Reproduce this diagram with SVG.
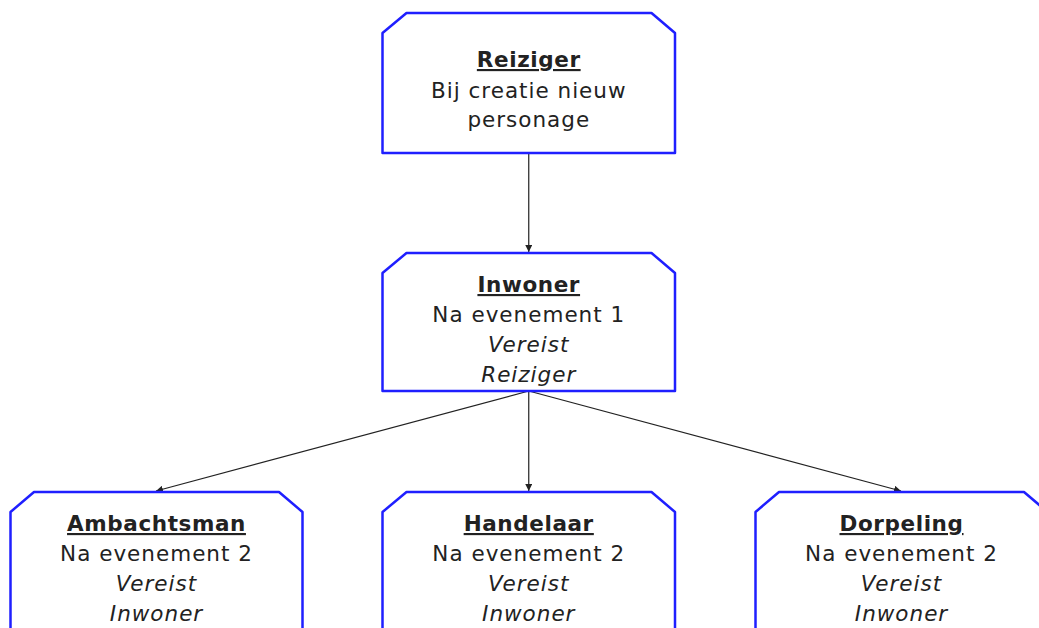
<svg xmlns="http://www.w3.org/2000/svg" width="1039" height="628" viewBox="0 0 1039 628">
<style>
.box{fill:#fff;stroke:#1f1fff;stroke-width:2.5;stroke-linejoin:round}
text{font-family:"DejaVu Sans","Noto Sans",sans-serif;font-size:21.5px;letter-spacing:1px;fill:#222;text-anchor:middle}
.t{font-weight:bold;text-decoration:underline;letter-spacing:0.6px}
.i{font-style:italic}
.c{stroke:#222;stroke-width:1.2;fill:none;marker-end:url(#ah)}
</style>
<defs>
<marker id="ah" viewBox="0 0 10 10" refX="10" refY="5" markerWidth="7" markerHeight="7" markerUnits="userSpaceOnUse" orient="auto">
<path d="M0,0L10,5L0,10z" fill="#222"/>
</marker>
</defs>
<rect width="1039" height="628" fill="#fff"/>
<g id="connectors">
<line class="c" x1="528.75" y1="153" x2="528.75" y2="252"/>
<line class="c" x1="528.75" y1="391" x2="156" y2="491"/>
<line class="c" x1="528.75" y1="391" x2="528.75" y2="491"/>
<line class="c" x1="528.75" y1="391" x2="901" y2="491"/>
</g>
<g id="reiziger">
<path class="box" d="M406.5,13H651.5L675,33V153H382.5V33Z"/>
<text class="t" x="528.75" y="67">Reiziger</text>
<text x="528.75" y="98">Bij creatie nieuw</text>
<text x="528.75" y="127">personage</text>
</g>
<g id="inwoner">
<path class="box" d="M406.5,253H651.5L675,273V391H382.5V273Z"/>
<text class="t" x="528.75" y="292">Inwoner</text>
<text x="528.75" y="322">Na evenement 1</text>
<text class="i" x="528.75" y="352">Vereist</text>
<text class="i" x="528.75" y="382">Reiziger</text>
</g>
<g id="ambachtsman">
<path class="box" d="M34,492H279L302.5,512V640H10.5V512Z"/>
<text class="t" x="156.5" y="531">Ambachtsman</text>
<text x="156.5" y="561">Na evenement 2</text>
<text class="i" x="156.5" y="591">Vereist</text>
<text class="i" x="156.5" y="621">Inwoner</text>
</g>
<g id="handelaar">
<path class="box" d="M406.5,492H651.5L675,512V640H382.5V512Z"/>
<text class="t" x="528.75" y="531">Handelaar</text>
<text x="528.75" y="561">Na evenement 2</text>
<text class="i" x="528.75" y="591">Vereist</text>
<text class="i" x="528.75" y="621">Inwoner</text>
</g>
<g id="dorpeling">
<path class="box" d="M779,492H1024L1047.5,512V640H755.5V512Z"/>
<text class="t" x="901.5" y="531">Dorpeling</text>
<text x="901.5" y="561">Na evenement 2</text>
<text class="i" x="901.5" y="591">Vereist</text>
<text class="i" x="901.5" y="621">Inwoner</text>
</g>
</svg>
